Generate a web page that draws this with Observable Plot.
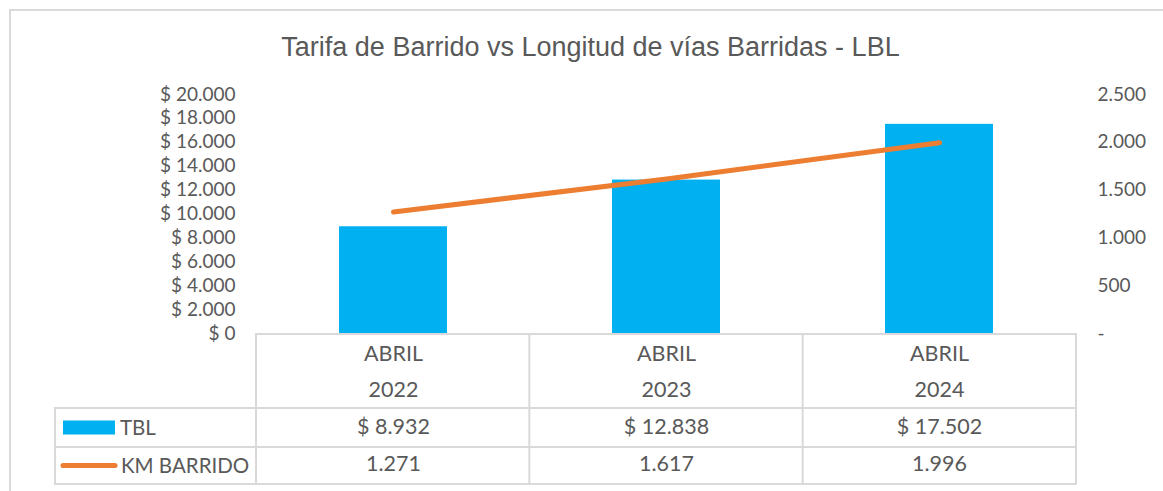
<!DOCTYPE html>
<html>
<head>
<meta charset="utf-8">
<script src="https://cdn.jsdelivr.net/npm/d3@7"></script>
<script src="https://cdn.jsdelivr.net/npm/@observablehq/plot@0.6"></script>
<style>
  html, body { margin: 0; padding: 0; background: #ffffff; }
  #wrap { position: relative; width: 1163px; height: 491px; overflow: hidden; background: #fff; }
  #frame { position: absolute; left: 9px; top: 9px; width: 1200px; height: 600px; border: 2px solid #D9D9D9; box-sizing: border-box; }
  #title { position: absolute; left: 0; top: 34px; width: 1181px; text-align: center; font-family: "Liberation Sans", Arial, sans-serif; font-size: 27px; line-height: 1; color: #595959; white-space: nowrap; }
  #chart { position: absolute; left: 0; top: 0; }
</style>
</head>
<body>
<div id="wrap">
  <div id="frame"></div>
  <div id="chart"></div>
  <div id="title">Tarifa de Barrido vs Longitud de vías Barridas - LBL</div>
</div>
<script>
// ---- data ----
const years = ["2022", "2023", "2024"];
const months = ["ABRIL", "ABRIL", "ABRIL"];
const tblValues = [8932, 12838, 17502];
const kmValues = [1271, 1617, 1996];
const leftTicks = [0, 2000, 4000, 6000, 8000, 10000, 12000, 14000, 16000, 18000, 20000];
const rightTicks = [0, 500, 1000, 1500, 2000, 2500];
const seriesNames = ["TBL", "KM BARRIDO"];
const leftMax = 20000;
const rightMax = 2500;

const ratio = leftMax / rightMax;
const data = years.map((y, i) => ({year: y, month: months[i], tbl: tblValues[i], km: kmValues[i]}));

const locale = d3.formatLocale({decimal: ",", thousands: ".", grouping: [3], currency: ["$ ", ""]});
const fmtMoney = locale.format("$,.0f");
const fmtNum = locale.format(",.0f");
const fmtKm = v => v === 0 ? "-" : fmtNum(v);

const BLUE = "#00B0F0", ORANGE = "#ED7D31", TEXT = "#595959", GRID = "#D9D9D9";
const FONT = "Lato, 'Open Sans', sans-serif";

const plot = Plot.plot({
  width: 1163,
  height: 491,
  marginLeft: 256,
  marginRight: 87,
  marginTop: 94,
  marginBottom: 158,
  style: {fontFamily: FONT, fontSize: "19px", color: TEXT, background: "transparent", overflow: "visible"},
  x: {domain: years, paddingInner: 0.605, paddingOuter: 0.3025, axis: null},
  y: {domain: [0, leftMax], axis: null},
  marks: [
    Plot.barY(data, {x: "year", y: "tbl", fill: BLUE}),
    Plot.line(data, {x: "year", y: d => d.km * ratio, stroke: ORANGE, strokeWidth: 5, strokeLinecap: "round", strokeLinejoin: "round"}),
    Plot.axisY({anchor: "left", label: null, ticks: leftTicks, tickSize: 0, tickPadding: 21, tickFormat: fmtMoney, fill: TEXT, fontSize: 19}),
    Plot.axisY({anchor: "right", label: null, ticks: rightTicks.map(v => v * ratio), tickSize: 0, tickPadding: 21, tickFormat: v => fmtKm(v / ratio), fill: TEXT, fontSize: 19}),
    Plot.text(data, {x: "year", y: 0, text: "month", dy: 21, fill: TEXT, fontSize: 21.5}),
    Plot.text(data, {x: "year", y: 0, text: "year", dy: 57, fill: TEXT, fontSize: 21.5}),
    Plot.text(data, {x: "year", y: 0, text: d => fmtMoney(d.tbl), dy: 94, fill: TEXT, fontSize: 21.5}),
    Plot.text(data, {x: "year", y: 0, text: d => fmtKm(d.km), dy: 131, fill: TEXT, fontSize: 21.5})
  ]
});
document.getElementById("chart").appendChild(plot);

// ---- data table grid + legend keys, positioned from the plot's scales ----
const xs = plot.scale("x"), ys = plot.scale("y");
const x0 = xs.range[0], x1 = xs.range[1];
const step = (x1 - x0) / years.length;
const y0 = ys.apply(0);
const rowHeader = y0 + 75, rowTbl = y0 + 114, rowKm = y0 + 151;
const tableLeft = 55;
const g = d3.select(plot).append("g").attr("stroke", GRID).attr("stroke-width", 2).attr("fill", "none");
g.append("line").attr("x1", x0).attr("x2", x1).attr("y1", y0 + 1).attr("y2", y0 + 1);
[rowHeader, rowTbl, rowKm].forEach(y => g.append("line").attr("x1", tableLeft).attr("x2", x1).attr("y1", y).attr("y2", y));
for (let i = 0; i <= years.length; i++) {
  const x = x0 + i * step;
  g.append("line").attr("x1", x).attr("x2", x).attr("y1", y0).attr("y2", rowKm + 1);
}
g.append("line").attr("x1", tableLeft).attr("x2", tableLeft).attr("y1", rowHeader - 1).attr("y2", rowKm + 1);

const lg = d3.select(plot).append("g").attr("font-family", FONT).attr("font-size", 20.5).attr("fill", TEXT).attr("text-anchor", "start");
const midTbl = (rowHeader + rowTbl) / 2, midKm = (rowTbl + rowKm) / 2;
lg.append("rect").attr("x", 63).attr("y", midTbl - 7).attr("width", 52).attr("height", 14).attr("fill", BLUE);
lg.append("text").attr("x", 120).attr("y", midTbl).attr("dy", "0.35em").attr("text-anchor", "start").text(seriesNames[0]);
lg.append("line").attr("x1", 63).attr("x2", 115).attr("y1", midKm).attr("y2", midKm)
  .attr("stroke", ORANGE).attr("stroke-width", 5).attr("stroke-linecap", "round");
lg.append("text").attr("x", 121).attr("y", midKm).attr("dy", "0.35em").attr("text-anchor", "start").text(seriesNames[1]);
</script>
</body>
</html>
